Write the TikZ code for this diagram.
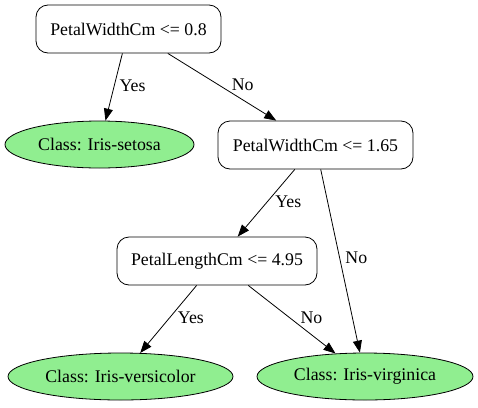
\documentclass[tikz,border=0pt]{standalone}
\usepackage{fontspec}
\setmainfont{Liberation Serif}
\newfontfamily\gvfont{Liberation Serif}
\usepackage{tikz}
\usetikzlibrary{shapes.geometric,arrows.meta,positioning}

\begin{document}
\begin{tikzpicture}[x=1pt, y=-1pt, auto, line width=0.8pt,
    font=\gvfont\fontsize{17.8}{20}\selectfont,
    test/.style={draw, rounded corners=12pt, fill=white, inner sep=0pt, minimum height=48pt},
    leaf/.style={ellipse, draw, fill=leafgreen, inner sep=0pt, minimum height=47pt},
    lbl/.style={pos=0.48, anchor=west, inner sep=1pt, fill=none, draw=none}]
   \definecolor{leafgreen}{HTML}{90EE90}
   \useasboundingbox (0,0) rectangle (478,407);
   % decision nodes
   \node[test, minimum width=185pt] (w1) at (128.5,29) {PetalWidthCm <= 0.8};
   \node[test, minimum width=195pt] (w2) at (315.5,145) {PetalWidthCm <= 1.65};
   \node[test, minimum width=200pt] (l1) at (217,261) {PetalLengthCm <= 4.95};
   % classes
   \node[leaf, minimum width=189pt] (set) at (99.5,144.5) {Class: Iris-setosa};
   \node[leaf, minimum width=225pt] (ver) at (120.5,376.5) {Class: Iris-versicolor};
   \node[leaf, minimum width=216pt] (vir) at (365,376.5) {Class: Iris-virginica};
   \begin{scope}[-{Triangle[length=12pt,width=9pt]}, every edge/.style={draw=black,line width=0.8pt}]
    \draw  (w1) edge node[lbl, xshift=4pt]{Yes} (set);
    \draw  (w1) edge node[lbl, xshift=10.5pt, yshift=1pt]{No} (w2);
    \draw  (w2) edge node[lbl, xshift=6.5pt]{Yes} (l1);
    \draw  (w2) edge node[lbl, xshift=4.5pt]{No} (vir);
    \draw  (l1) edge node[lbl, xshift=7pt]{Yes} (ver);
    \draw  (l1) edge node[lbl, xshift=9pt]{No} (vir);
   \end{scope}
\end{tikzpicture}
\end{document}
